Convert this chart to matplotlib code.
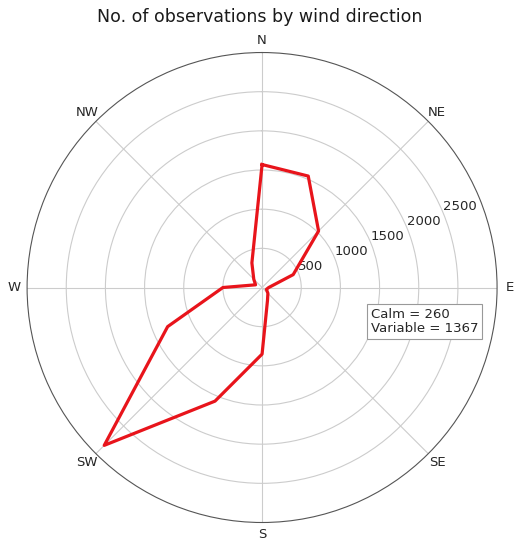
import numpy as np
import matplotlib
matplotlib.use('Agg')
import matplotlib.pyplot as plt

# wind directions (16 points, clockwise from north)
directions = ['N', 'NNE', 'NE', 'ENE', 'E', 'ESE', 'SE', 'SSE',
              'S', 'SSW', 'SW', 'WSW', 'W', 'WNW', 'NW', 'NNW']
counts = [1570, 1540, 1020, 430, 85, 60, 105, 180,
          850, 1570, 2850, 1305, 500, 90, 150, 340]

# labels on the angular axis
compass_labels = ['N', 'NE', 'E', 'SE', 'S', 'SW', 'W', 'NW']
ring_values = [500, 1000, 1500, 2000, 2500]

calm = 260
variable = 1367

angles = np.deg2rad(np.arange(len(directions)) * 22.5)
# close the polygon
theta = np.append(angles, angles[0])
r = np.append(counts, counts[0])

fig = plt.figure(figsize=(5.2, 5.5), dpi=100)
ax = fig.add_axes([0.052, 0.05, 0.904, 0.8545], projection='polar')
ax.set_theta_zero_location('N')
ax.set_theta_direction(-1)

ax.plot(theta, r, color='#e8141b', linewidth=2.3)

ax.set_ylim(0, 3000)
ax.set_yticks(ring_values)
ax.set_yticklabels([str(v) for v in ring_values], fontsize=9.5, color='#262626')
ax.set_rlabel_position(67.5)
ax.set_xticks(np.deg2rad(np.arange(0, 360, 45)))
ax.set_xticklabels(compass_labels, fontsize=9.5, color='#262626')
ax.tick_params(axis='x', pad=-1.5)

ax.grid(True, color='#cccccc', linewidth=0.8)
ax.spines['polar'].set_color('#555555')
ax.spines['polar'].set_linewidth(0.8)

fig.suptitle('No. of observations by wind direction', fontsize=12.5, y=0.985, color='#1a1a1a')

fig.text(0.713, 0.391, 'Calm = %d\nVariable = %d' % (calm, variable),
         fontsize=9.5, color='#262626', va='bottom', ha='left', linespacing=1.1,
         bbox=dict(boxstyle='square,pad=0.3', facecolor='white', edgecolor='#999999', linewidth=0.8))

plt.savefig('out.png', dpi=100)
